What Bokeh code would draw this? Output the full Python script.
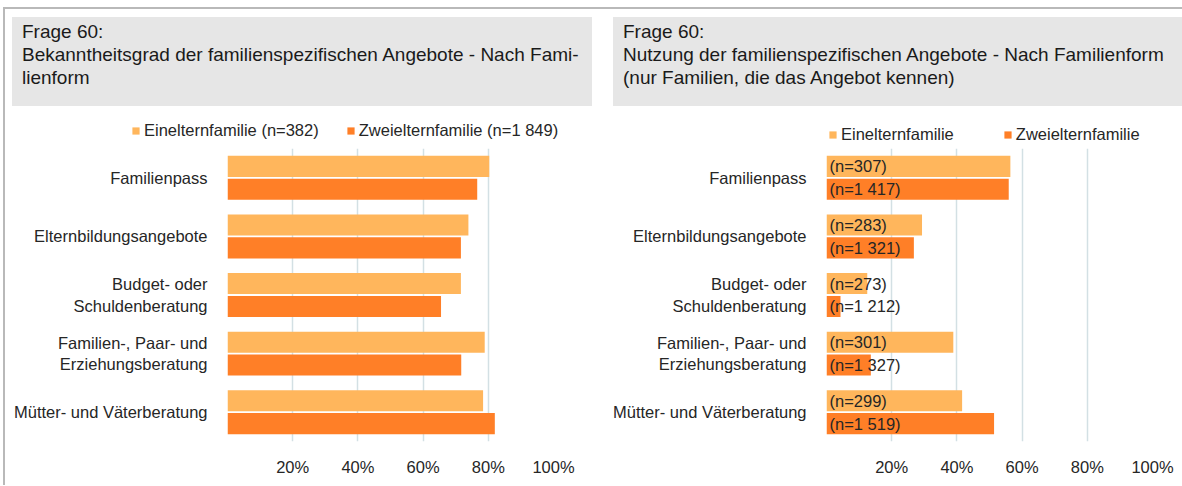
from bokeh.plotting import figure
from bokeh.models import (ColumnDataSource, FactorRange, Range1d, FixedTicker, CustomJSTickFormatter,
                          Legend, LegendItem, Div, Spacer)
from bokeh.layouts import row, column
from bokeh.transform import dodge
from bokeh.core.properties import value
from bokeh.embed import file_html
from bokeh.resources import INLINE

# ---------------- data ----------------
categories = ["Familienpass", "Elternbildungsangebote", "Budget- oder\nSchuldenberatung",
              "Familien-, Paar- und\nErziehungsberatung", "Mütter- und Väterberatung"]

# Bekanntheitsgrad (%)
known_einelt = [80.3, 73.9, 71.6, 78.9, 78.4]
known_zweielt = [76.6, 71.6, 65.5, 71.7, 82.0]

# Nutzung (%), nur Familien, die das Angebot kennen
use_einelt = [56.4, 29.3, 12.5, 38.9, 41.6]
use_zweielt = [55.9, 26.8, 4.3, 13.6, 51.4]
n_einelt = ["(n=307)", "(n=283)", "(n=273)", "(n=301)", "(n=299)"]
n_zweielt = ["(n=1 417)", "(n=1 321)", "(n=1 212)", "(n=1 327)", "(n=1 519)"]

ticks = [0, 20, 40, 60, 80, 100]

title_left = ["Frage 60:", "Bekanntheitsgrad der familienspezifischen Angebote - Nach Fami-", "lienform"]
title_right = ["Frage 60:", "Nutzung der familienspezifischen Angebote - Nach Familienform",
               "(nur Familien, die das Angebot kennen)"]
legend_left = ["Einelternfamilie (n=382)", "Zweielternfamilie (n=1 849)"]
legend_right = ["Einelternfamilie", "Zweielternfamilie"]

# ---------------- styles ----------------
C_LIGHT = "#FFB65C"
C_DARK = "#FF7F27"
GRID = "#d3e0e4"
TXT = "#262626"
FONT = "Liberation Sans"
FS = "16.5px"

src_left = ColumnDataSource(dict(cat=categories, e=known_einelt, z=known_zweielt))
src_right = ColumnDataSource(dict(cat=categories, e=use_einelt, z=use_zweielt, ne=n_einelt, nz=n_zweielt))


def style_blank(p):
    p.outline_line_color = None
    p.background_fill_color = None
    p.border_fill_color = None


def make_fig(src, width, bl, br, with_n=False):
    p = figure(width=width, height=330, output_backend="svg", toolbar_location=None,
               y_range=FactorRange(factors=list(reversed(categories))),
               x_range=Range1d(0, 100), margin=0,
               min_border_left=bl, min_border_right=br, min_border_top=0, min_border_bottom=29)
    p.hbar(y=dodge("cat", 0.195, range=p.y_range), right="e", left=0, height=0.36,
           source=src, color=C_LIGHT, line_color=None)
    p.hbar(y=dodge("cat", -0.195, range=p.y_range), right="z", left=0, height=0.36,
           source=src, color=C_DARK, line_color=None)
    if with_n:
        for col, off in (("ne", 0.195), ("nz", -0.195)):
            p.text(x=0, y=dodge("cat", off, range=p.y_range), text=col, source=src, x_offset=3,
                   text_baseline="middle", text_align="left", text_font=value(FONT),
                   text_font_size=FS, text_color=TXT)
    style_blank(p)
    p.ygrid.grid_line_color = None
    p.xgrid.grid_line_color = GRID
    p.xgrid.grid_line_width = 1.5
    p.xaxis.ticker = FixedTicker(ticks=ticks)
    p.xaxis.formatter = CustomJSTickFormatter(code="return tick == 0 ? '' : tick + '%';")
    for ax in (p.xaxis, p.yaxis):
        ax.axis_line_color = None
        ax.major_tick_line_color = None
        ax.minor_tick_line_color = None
        ax.major_label_text_font = FONT
        ax.major_label_text_font_size = FS
        ax.major_label_text_color = TXT
    p.xaxis.major_label_standoff = 10
    p.yaxis.major_label_standoff = 14
    return p


# legend strip: one figure spanning both panels; its renderers only supply the legend swatches
lf = figure(width=1177, height=42, output_backend="svg", toolbar_location=None,
            x_range=Range1d(-300, -200), y_range=FactorRange(factors=categories),
            x_axis_type=None, y_axis_type=None, margin=0,
            min_border_left=0, min_border_right=0, min_border_top=0, min_border_bottom=0)
style_blank(lf)
lf.grid.visible = False
for src, labels, loc, spacing in ((src_left, legend_left, (126, 8), 27),
                                  (src_right, legend_right, (823, 4), 49)):
    ra = lf.hbar(y="cat", right="e", left=0, height=0, source=src, color=C_LIGHT, line_color=None)
    rb = lf.hbar(y="cat", right="z", left=0, height=0, source=src, color=C_DARK, line_color=None)
    lf.add_layout(Legend(items=[LegendItem(label=labels[0], renderers=[ra]),
                                LegendItem(label=labels[1], renderers=[rb])],
                         orientation="horizontal", location=loc,
                         glyph_width=9, glyph_height=9, label_standoff=4, spacing=spacing,
                         padding=0, margin=0, border_line_color=None, background_fill_alpha=0,
                         label_text_font=FONT, label_text_font_size=FS, label_text_color=TXT))

p1 = make_fig(src_left, 595, 222, 47)
p2 = make_fig(src_right, 582, 226, 30, with_n=True)


def title_div(lines, width):
    html = ('<div style="padding:3px 10px;font-family:\'Liberation Sans\';font-size:19px;'
            'line-height:23px;color:#1a1a1a;white-space:nowrap;">' + "<br>".join(lines) + "</div>")
    return Div(text=html, width=width, height=89, margin=0,
               styles={"background-color": "#e6e6e6"})


titles = row(Spacer(width=7, height=89, margin=0), title_div(title_left, 580),
             Spacer(width=21, height=89, margin=0), title_div(title_right, 569))
content = column(Spacer(width=1177, height=8, margin=0), titles, lf, row(p1, p2))

vline = Div(text="", width=2, height=476, margin=0, styles={"background-color": "#b9b9b9"})
hline = Div(text="", width=1179, height=2, margin=0, styles={"background-color": "#b9b9b9"})

root = column(Spacer(width=1182, height=7, margin=0),
              row(Spacer(width=3, height=2, margin=0), hline),
              row(Spacer(width=3, height=476, margin=0), vline, content))

open("out.html", "w").write(file_html(root, INLINE))
